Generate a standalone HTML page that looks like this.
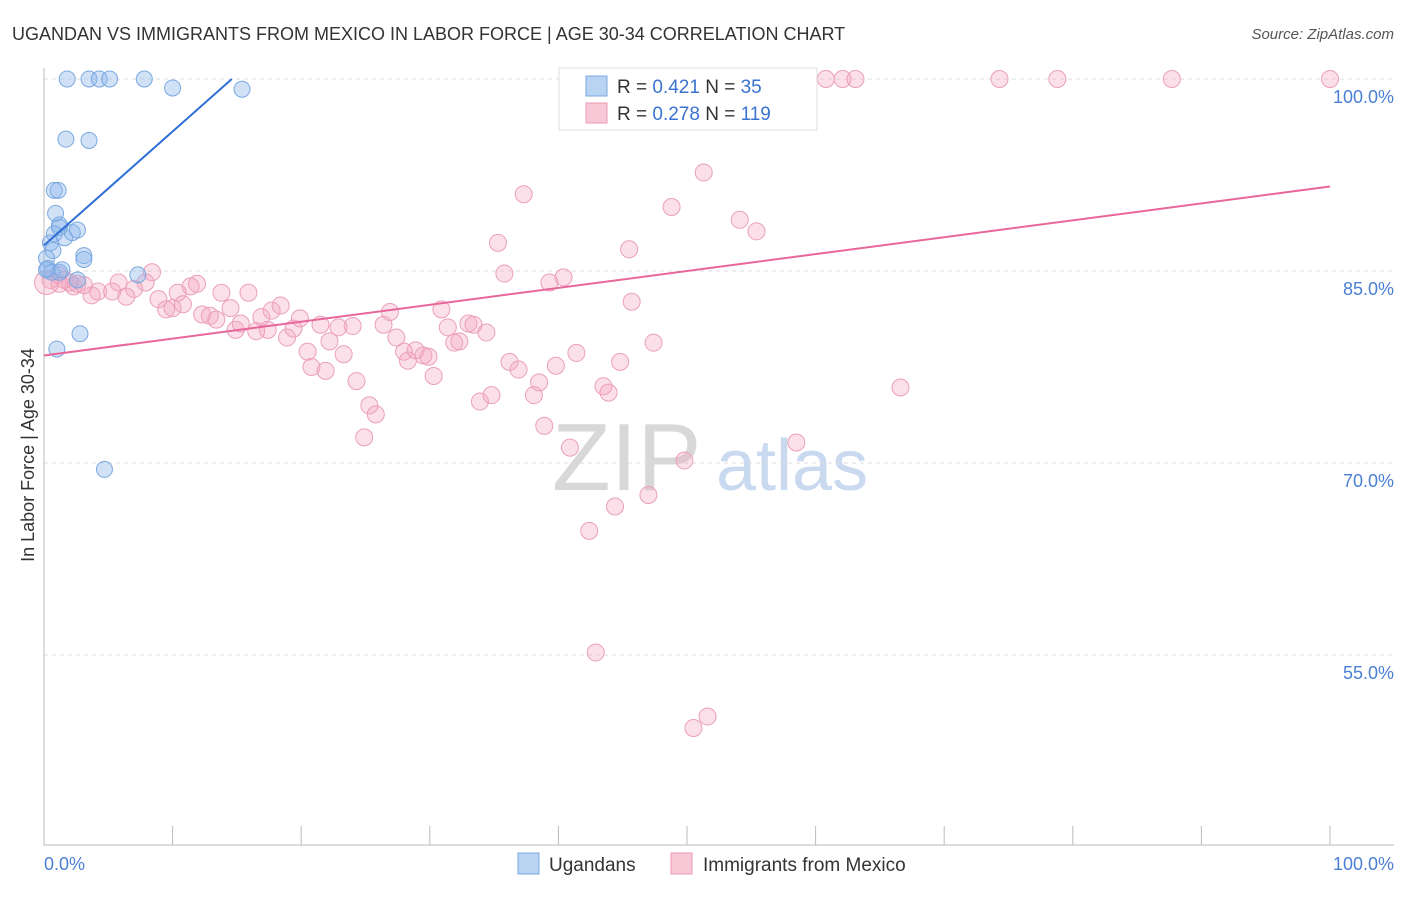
<!DOCTYPE html>
<html><head><meta charset="utf-8">
<style>
html,body{margin:0;padding:0;background:#fff;}
body{width:1406px;height:892px;overflow:hidden;font-family:"Liberation Sans",sans-serif;}
svg text{font-family:"Liberation Sans",sans-serif;}
</style></head>
<body>
<svg id="chart" width="1406" height="892" xmlns="http://www.w3.org/2000/svg">
<text x="12" y="40" font-size="18" fill="#333">UGANDAN VS IMMIGRANTS FROM MEXICO IN LABOR FORCE | AGE 30-34 CORRELATION CHART</text>
<text x="1394" y="39" font-size="15" fill="#555" font-style="italic" text-anchor="end">Source: ZipAtlas.com</text>
<g>
<text x="552" y="490" font-size="96" fill="#d8d8d8" font-family="Liberation Serif, serif">ZIP</text>
<text x="716" y="490" font-size="72" fill="#c9daf0">atlas</text>
</g>
<g id="grid"></g>
<g id="axes"></g>
<g id="pinkPts"></g>
<g id="bluePts"></g>
<g id="lines"></g>
<text transform="translate(34,455) rotate(-90)" font-size="18" fill="#333" text-anchor="middle">In Labor Force | Age 30-34</text>
<text x="44" y="870" font-size="18" fill="#4a7fd4">0.0%</text>
<text x="1394" y="870" font-size="18" fill="#4a7fd4" text-anchor="end">100.0%</text>
<g>
<rect x="559" y="68" width="258" height="62" fill="#fff" stroke="#ddd"/>
<rect x="586" y="76" width="21" height="20" fill="#b9d3f3" stroke="#7aa8e0"/>
<rect x="586" y="103" width="21" height="20" fill="#f8c8d7" stroke="#e89ab5"/>
<text x="617" y="93" font-size="19" fill="#333">R = <tspan fill="#3b73d0">0.421</tspan>   N = <tspan fill="#3b73d0"> 35</tspan></text>
<text x="617" y="120" font-size="19" fill="#333">R = <tspan fill="#3b73d0">0.278</tspan>   N = <tspan fill="#3b73d0">119</tspan></text>
</g>
<g>
<rect x="518" y="853" width="21" height="21" fill="#b9d3f3" stroke="#7aa8e0"/>
<text x="549" y="871" font-size="19" fill="#333">Ugandans</text>
<rect x="671" y="853" width="21" height="21" fill="#f8c8d7" stroke="#e89ab5"/>
<text x="703" y="871" font-size="19" fill="#333">Immigrants from Mexico</text>
</g>
</svg>
<script>
const yTicks=[100,85,70,55];
const yTickLabels=["100.0%","85.0%","70.0%","55.0%"];
const xTicks=[0,10,20,30,40,50,60,70,80,90,100];
const blueX=[1.8,3.5,4.3,5.1,7.8,10.0,15.4,1.7,3.5,0.8,1.1,0.9,1.2,1.2,0.8,1.6,2.2,2.6,0.5,0.7,0.2,3.1,3.1,0.3,0.6,1.2,2.6,7.3,2.8,1.0,4.7,0.2,1.4];
const blueY=[100,100,100,100,100,99.3,99.2,95.3,95.2,91.3,91.3,89.5,88.6,88.4,87.9,87.6,88.0,88.2,87.2,86.6,86.0,86.2,85.9,85.2,84.9,84.9,84.3,84.7,80.1,78.9,69.5,85.1,85.1];
const pinkX=[46.1,48.5,52.4,53.7,54.5,56.5,59.4,60.8,62.1,63.1,74.3,78.8,87.7,100,51.3,37.3,48.8,54.1,55.4,35.3,45.5,35.8,40.4,39.3,8.4,5.8,7.9,7.0,4.2,5.3,6.4,3.7,11.4,11.9,13.8,15.9,10.4,8.9,9.5,10.0,10.8,12.3,12.9,13.4,14.5,14.9,15.3,16.5,16.9,17.7,18.4,17.4,18.9,19.4,19.9,21.5,22.9,24.0,22.2,20.5,20.8,21.9,23.3,24.3,25.3,25.8,24.9,26.4,26.9,27.4,28.0,28.3,28.9,29.5,29.9,30.3,30.9,31.4,31.9,32.3,33.0,33.4,34.4,33.9,34.8,36.2,36.9,38.1,38.5,39.8,41.4,43.5,43.9,44.8,45.7,47.4,38.9,40.9,49.8,42.4,44.4,47.0,66.6,58.5,42.9,51.6,50.5,1.1,1.6,2.3,3.1,2.0,2.6,0.5,1.2,0.2];
const pinkY=[100,100,100,100,100,100,100,100,100,100,100,100,100,100,92.7,91.0,90.0,89.0,88.1,87.2,86.7,84.8,84.5,84.1,84.9,84.1,84.1,83.6,83.4,83.4,83.0,83.1,83.8,84.0,83.3,83.3,83.3,82.8,82.0,82.1,82.4,81.6,81.5,81.2,82.1,80.4,80.9,80.3,81.4,81.9,82.3,80.4,79.8,80.5,81.3,80.8,80.6,80.7,79.5,78.7,77.5,77.2,78.5,76.4,74.5,73.8,72.0,80.8,81.8,79.8,78.7,78.0,78.8,78.4,78.3,76.8,82.0,80.6,79.4,79.5,80.9,80.8,80.2,74.8,75.3,77.9,77.3,75.3,76.3,77.6,78.6,76.0,75.5,77.9,82.6,79.4,72.9,71.2,70.2,64.7,66.6,67.5,75.9,71.6,55.2,50.2,49.3,84.7,84.3,83.8,83.9,84.1,84.0,84.3,84.0,84.1];
const blueTrend=[87.0,0.89];   // intercept, slope
const pinkTrend=[78.4,0.132];

const NS="http://www.w3.org/2000/svg";
const X0=44,X1=1330,YTOP=79,PXPER=192/15;
const sx=v=>X0+(v/100)*(X1-X0);
const sy=v=>YTOP+(100-v)*PXPER;
function mk(tag,attrs,parent){const e=document.createElementNS(NS,tag);for(const k in attrs)e.setAttribute(k,attrs[k]);parent.appendChild(e);return e;}
const grid=document.getElementById('grid');
yTicks.forEach((t,i)=>{
  const l=mk('line',{x1:X0,x2:1394,y1:sy(t),y2:sy(t),stroke:'#ddd','stroke-dasharray':'4,4'},grid);
  
  
  const tx=mk('text',{x:1394,y:sy(t)+24,'font-size':18,fill:'#4a7fd4','text-anchor':'end'},grid);
  tx.textContent=yTickLabels[i];
  
  
});
const axes=document.getElementById('axes');
const ya=mk('line',{x1:X0,x2:X0,y1:68,y2:845,stroke:'#bbb'},axes);


const xa=mk('line',{x1:X0,x2:1394,y1:845,y2:845,stroke:'#bbb'},axes);


xTicks.forEach(t=>{
  const l=mk('line',{x1:sx(t),x2:sx(t),y1:826,y2:845,stroke:'#bbb'},axes);
  
  
});
const pp=document.getElementById('pinkPts');
pinkX.forEach((x,i)=>{
  const c=mk('circle',{cx:sx(x),cy:sy(pinkY[i]),r:(i===pinkX.length-1?12:8.5),fill:'rgba(244,165,192,0.35)',stroke:'#eb9fba','stroke-width':1},pp);
  
  
});
const bp=document.getElementById('bluePts');
blueX.forEach((x,i)=>{
  const c=mk('circle',{cx:sx(x),cy:sy(blueY[i]),r:8,fill:'rgba(140,182,235,0.4)',stroke:'#7aa8e0','stroke-width':1},bp);
  
  
});
const lines=document.getElementById('lines');
const bxEnd=Math.min(100,(100-blueTrend[0])/blueTrend[1]);
const bl=mk('line',{x1:sx(0),y1:sy(blueTrend[0]),x2:sx(bxEnd),y2:sy(blueTrend[0]+blueTrend[1]*bxEnd),stroke:'#2f6fd6','stroke-width':2},lines);


const pl=mk('line',{x1:sx(0),y1:sy(pinkTrend[0]),x2:sx(100),y2:sy(pinkTrend[0]+pinkTrend[1]*100),stroke:'#e8679a','stroke-width':2},lines);


</script>
</body></html>
